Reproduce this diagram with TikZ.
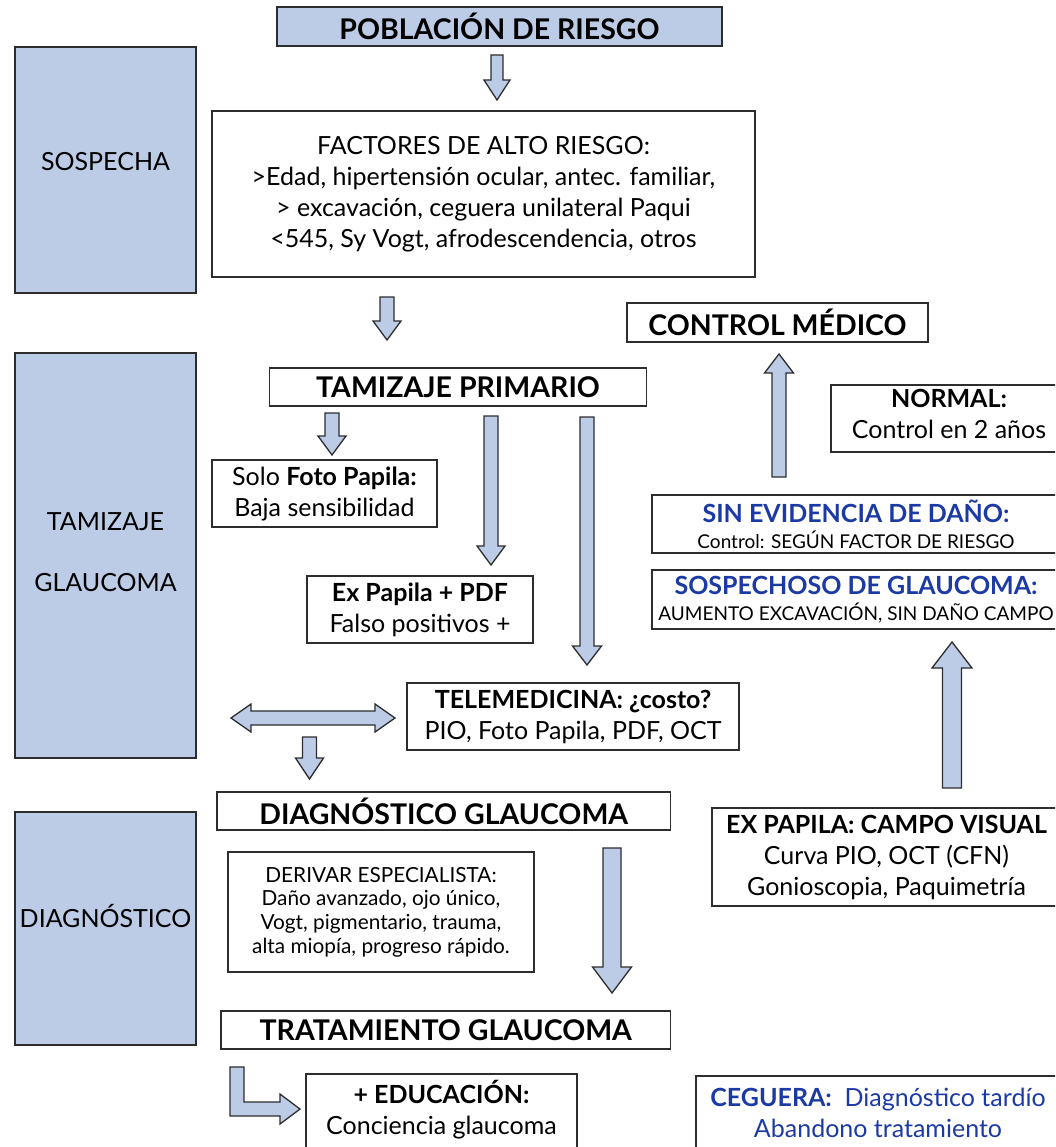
\documentclass[tikz,border=0pt]{standalone}
\usepackage{fontspec}
\setmainfont{Lato}
\usetikzlibrary{calc}

\definecolor{boxblue}{RGB}{188,203,230}
\definecolor{linegray}{RGB}{45,45,45}
\definecolor{txtblue}{RGB}{28,58,165}

% block arrow: from, to, half shaft, half head, head length
\newcommand{\blkarrow}[5]{%
  \filldraw[blkarr] let \p1=(#1), \p2=(#2),
      \n1={atan2(\y2-\y1,\x2-\x1)}, \n2={veclen(\x2-\x1,\y2-\y1)} in
    [shift={(\p1)}, rotate=\n1]
    (0,-#3) -- (\n2-#5,-#3) -- (\n2-#5,-#4) -- (\n2,0)
    -- (\n2-#5,#4) -- (\n2-#5,#3) -- (0,#3) -- cycle;}
\newcommand{\dblarrow}[5]{%
  \filldraw[blkarr] let \p1=(#1), \p2=(#2),
      \n1={atan2(\y2-\y1,\x2-\x1)}, \n2={veclen(\x2-\x1,\y2-\y1)} in
    [shift={(\p1)}, rotate=\n1]
    (0,0) -- (#5,-#4) -- (#5,-#3) -- (\n2-#5,-#3) -- (\n2-#5,-#4) -- (\n2,0)
    -- (\n2-#5,#4) -- (\n2-#5,#3) -- (#5,#3) -- (#5,#4) -- cycle;}

\begin{document}
\begin{tikzpicture}[x=1pt, y=-1pt,
    box/.style={draw=linegray, line width=1.4pt, align=center, inner sep=0pt},
    sidebox/.style={box, fill=boxblue, minimum width=181pt},
    blkarr/.style={draw=linegray, line width=1.3pt, fill=boxblue, line join=miter},
    big/.style={font=\fontsize{28.5}{32}\selectfont\bfseries},
    body/.style={font=\fontsize{25}{31}\selectfont},
    note/.style={font=\fontsize{20.8}{23.7}\selectfont},
    tiny/.style={font=\fontsize{19}{26}\selectfont}]
  \clip (0,0) rectangle (1055,1147);

  % columna izquierda
  \node[sidebox, minimum height=246pt, label={[body, yshift=8pt]center:SOSPECHA}] (sosp) at (105.5,170) {};
  \node[sidebox, minimum height=405pt, label={[body, align=center, yshift=3pt]center:{TAMIZAJE\\[30pt]GLAUCOMA}}] (tamside) at (105.5,555.5) {};
  \node[sidebox, minimum height=233pt, label={[body, yshift=12.5pt]center:DIAGNÓSTICO}] (diagside) at (105.5,928.5) {};

  % flujo central
  \node[box, big, fill=boxblue, minimum width=445pt, minimum height=39pt] (pob) at (499.5,26.5) {POBLACIÓN DE RIESGO};
  \node[box, body, minimum width=543pt, minimum height=166pt] (fact) at (483.5,194) {FACTORES DE ALTO RIESGO:\\>Edad, hipertensión ocular, antec. familiar,\\> excavación, ceguera unilateral Paqui\\<545, Sy Vogt, afrodescendencia, otros};
  \node[box, big, minimum width=377pt, minimum height=38pt] (tamprim) at (458,387) {TAMIZAJE PRIMARIO};
  \node[box, body, minimum width=225pt, minimum height=67pt] (solo) at (324.5,493.5) {Solo \textbf{Foto Papila:}\\Baja sensibilidad};
  \node[box, body, minimum width=226pt, minimum height=67pt] (expap) at (420,609.5) {\textbf{Ex Papila + PDF}\\Falso positivos +};
  \node[box, body, minimum width=332pt, minimum height=67pt] (tele) at (573,716.5) {\textbf{TELEMEDICINA: ¿costo?}\\PIO, Foto Papila, PDF, OCT};
  \node[box, big, minimum width=453.5pt, minimum height=38pt] (diag) at (443.75,811) {DIAGNÓSTICO GLAUCOMA};
  \node[box, note, minimum width=306pt, minimum height=120pt] (deriv) at (381,912) {DERIVAR ESPECIALISTA:\\Daño avanzado, ojo único,\\Vogt, pigmentario, trauma,\\alta miopía, progreso rápido.};
  \node[box, big, minimum width=449.5pt, minimum height=38pt] (trat) at (445.75,1030) {TRATAMIENTO GLAUCOMA};
  \node[box, minimum width=271pt, minimum height=90pt, label={[body, align=center, yshift=9pt]center:{\textbf{+ EDUCACIÓN:}\\Conciencia glaucoma}}] (educ) at (441.5,1119) {};

  % columna derecha
  \node[box, big, minimum width=301pt, minimum height=39pt] (ctrl) at (777.5,322.5) {CONTROL MÉDICO};
  \node[box, minimum width=236pt, minimum height=67pt, label={[body, align=center, yshift=5pt]center:{\textbf{NORMAL:}\\Control en 2 años}}] (normal) at (949,418.5) {};
  \node[box, tiny, minimum width=408pt, minimum height=58pt] (sinev) at (856,524) {\textcolor{txtblue}{\bfseries\fontsize{25}{26}\selectfont SIN EVIDENCIA DE DAÑO:}\\Control: SEGÚN FACTOR DE RIESGO};
  \node[box, tiny, minimum width=408pt, minimum height=59pt] (sospg) at (856,599.5) {\textcolor{txtblue}{\bfseries\fontsize{25}{26}\selectfont SOSPECHOSO DE GLAUCOMA:}\\AUMENTO EXCAVACIÓN, SIN DAÑO CAMPO};
  \node[box, body, minimum width=349pt, minimum height=98pt] (excv) at (886.5,857) {\textbf{EX PAPILA: CAMPO VISUAL}\\Curva PIO, OCT (CFN)\\Gonioscopia, Paquimetría};
  \node[box, minimum width=364pt, minimum height=90pt, label={[body, text=txtblue, align=center, yshift=8.5pt]center:{\textbf{CEGUERA:}~ Diagnóstico tardío\\Abandono tratamiento}}] (ceg) at (878,1121) {};

  % flechas
  \coordinate (a1s) at (497,55);    \coordinate (a1e) at (497,100);
  \coordinate (a2s) at (387,297);   \coordinate (a2e) at (387,340);
  \coordinate (a3s) at (332,413);   \coordinate (a3e) at (332,455);
  \coordinate (a4s) at (491,416);   \coordinate (a4e) at (491,565);
  \coordinate (a5s) at (587,417);   \coordinate (a5e) at (587,665);
  \coordinate (a6s) at (309.5,737); \coordinate (a6e) at (309.5,779);
  \coordinate (a7s) at (612,848);   \coordinate (a7e) at (612,993);
  \coordinate (u1s) at (779,477);   \coordinate (u1e) at (779,354);
  \coordinate (u2s) at (952,788);   \coordinate (u2e) at (952,642);
  \coordinate (dl) at (231,718);    \coordinate (dr) at (395,718);

  \blkarrow{a1s}{a1e}{6}{13}{20}
  \blkarrow{a2s}{a2e}{7}{14}{19}
  \blkarrow{a3s}{a3e}{7}{14}{19}
  \blkarrow{a4s}{a4e}{7}{14}{19}
  \blkarrow{a5s}{a5e}{7}{14.5}{19}
  \blkarrow{a6s}{a6e}{7}{14}{21}
  \blkarrow{a7s}{a7e}{9}{19.5}{26}
  \blkarrow{u1s}{u1e}{7}{14.5}{19}
  \blkarrow{u2s}{u2e}{9.5}{20}{26}
  \dblarrow{dl}{dr}{7}{14}{20}

  \filldraw[blkarr] (230,1067) -- (244,1067) -- (244,1102) -- (280,1102) -- (280,1094)
    -- (300,1109) -- (280,1124) -- (280,1116) -- (230,1116) -- cycle;
\end{tikzpicture}
\end{document}
